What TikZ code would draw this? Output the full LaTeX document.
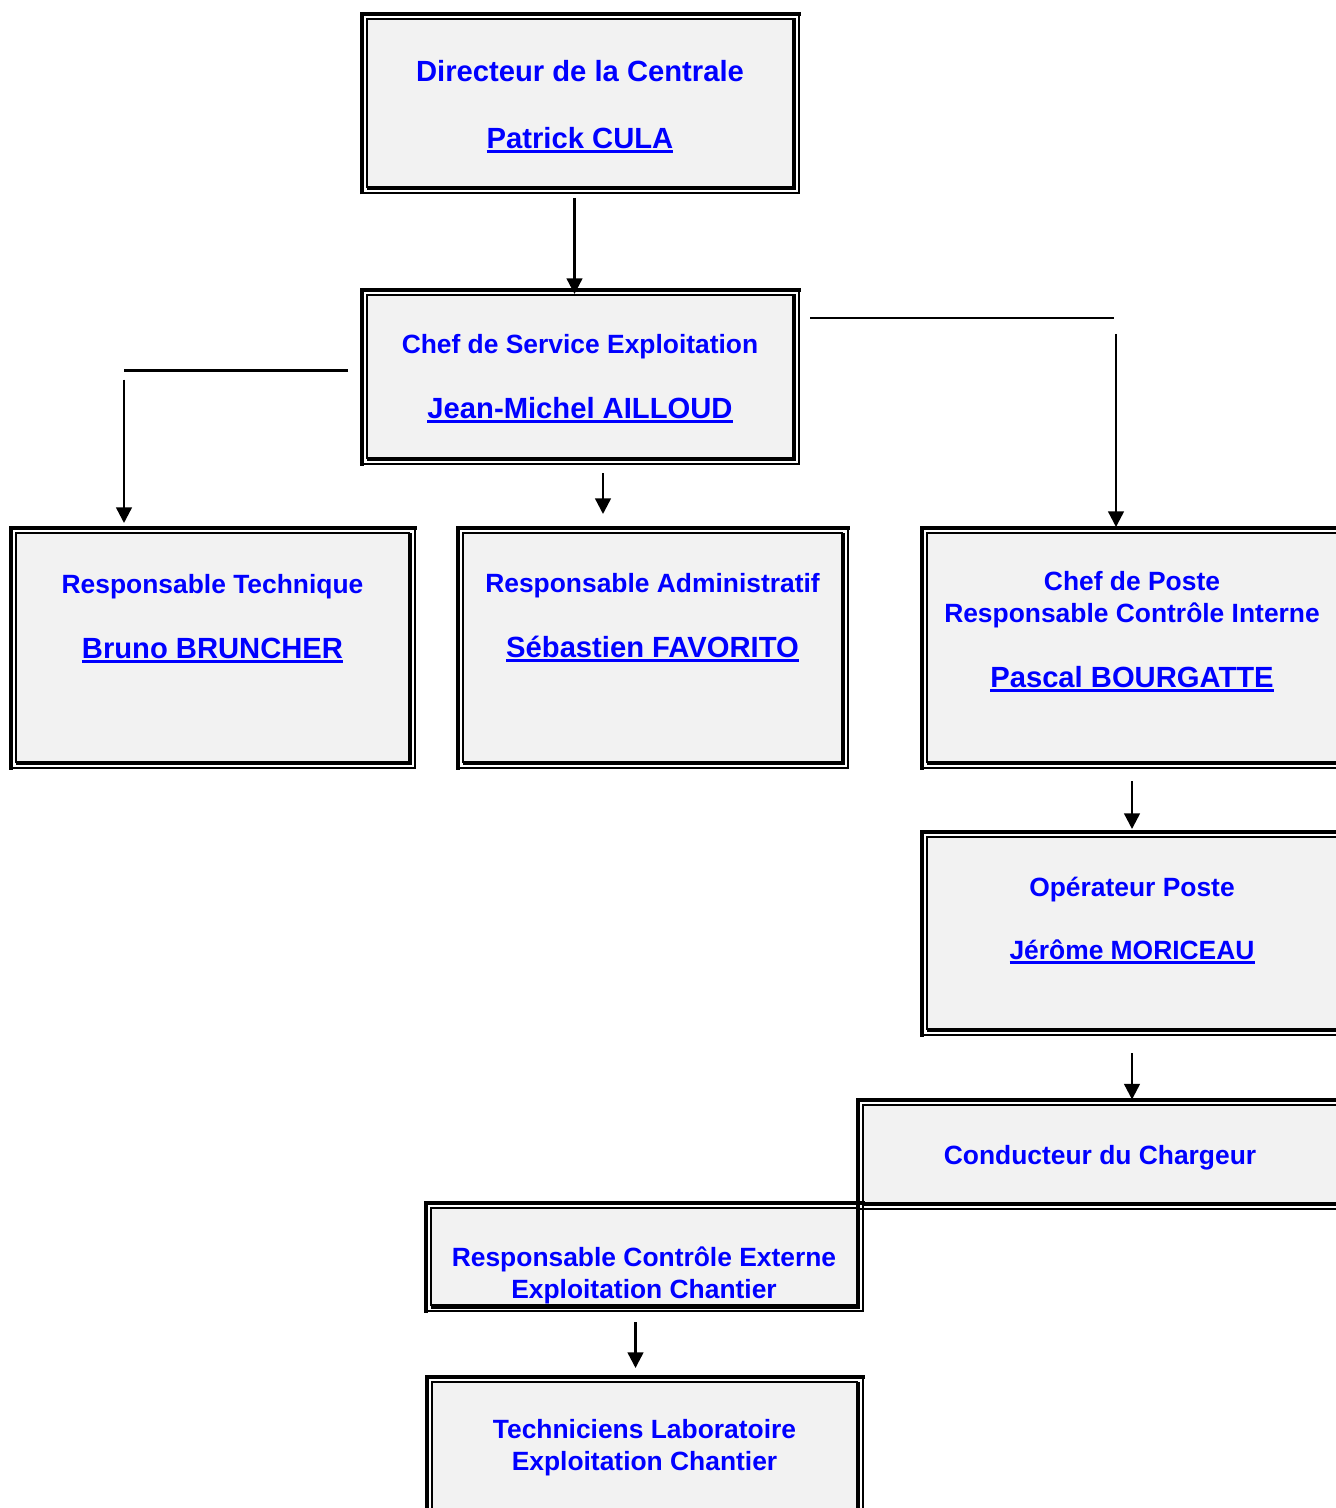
\documentclass[tikz,border=0pt]{standalone}
\usepackage{fontspec}
\setmainfont{Liberation Sans}
\usetikzlibrary{arrows.meta}
\definecolor{boxgray}{HTML}{F2F2F2}
\newsavebox{\namebox}
\newcommand{\nameul}[1]{\sbox{\namebox}{#1}\rlap{\rule[-2.3pt]{\wd\namebox}{1.5pt}}\usebox{\namebox}}
\newcommand{\bigtxt}{\fontsize{14.6}{17}\selectfont\bfseries}
\newcommand{\persname}[1]{{\bigtxt\nameul{#1}}}
\newcommand{\lift}[1]{\rule{0pt}{#1}}
\begin{document}
\begin{tikzpicture}[x=0.5pt, y=-0.5pt]
  \tikzstyle{orgbox}=[fill=boxgray, text=blue, align=center, inner sep=0pt, outer sep=0pt,
                      font=\fontsize{13.2}{16}\selectfont\bfseries]
  \tikzstyle{thinrule}=[line width=0.9pt]
  \tikzstyle{thickrule}=[line width=2.2pt]
  \tikzstyle{link}=[line width=1.2pt]
  \tikzstyle{arrow}=[link, -{Triangle[width=7.8pt, length=7.8pt]}]

  \useasboundingbox (0,0) rectangle (1335,1508);

  \node[orgbox, minimum width=212pt, minimum height=83pt, font=\bigtxt] (dir) at (580,103)
    {\lift{14.6pt}Directeur de la Centrale\\[16.5pt]\nameul{Patrick CULA}};
  \node[orgbox, minimum width=212pt, minimum height=80.5pt] (chef) at (580,376.5)
    {\lift{12.1pt}Chef de Service Exploitation\\[16.5pt]\persname{Jean-Michel AILLOUD}};
  \node[orgbox, minimum width=195.5pt, minimum height=113.5pt] (tech) at (212.5,647.5)
    {\lift{12.1pt}Responsable Technique\\[16.5pt]\persname{Bruno BRUNCHER}\\[18pt]\mbox{}};
  \node[orgbox, minimum width=188.5pt, minimum height=113.5pt] (adm) at (652.5,647.5)
    {\lift{11pt}Responsable Administratif\\[16.5pt]\persname{Sébastien FAVORITO}\\[18pt]\mbox{}};
  \node[orgbox, minimum width=204pt, minimum height=113.5pt] (poste) at (1132,647.5)
    {\lift{12.1pt}Chef de Poste\\Responsable Contrôle Interne\\[16.5pt]\persname{Pascal BOURGATTE}\\[4.3pt]\mbox{}};
  \node[orgbox, minimum width=204pt, minimum height=95pt] (oper) at (1132,933)
    {\lift{12.2pt}Opérateur Poste\\[15.5pt]\nameul{Jérôme MORICEAU}\\[1pt]\mbox{}};
  \node[orgbox, minimum width=236pt, minimum height=48pt] (cond) at (1100,1154)
    {\lift{13.6pt}Conducteur du Chargeur};
  \node[orgbox, minimum width=212pt, minimum height=46.5pt] (rce) at (644,1256.5)
    {\mbox{}\\[13pt]Responsable Contrôle Externe\\Exploitation Chantier};
  \node[orgbox, minimum width=211.5pt, minimum height=64.5pt] (labo) at (644.5,1447.5)
    {Techniciens Laboratoire\\Exploitation Chantier};

  % double frames: thick outside on top/left, thick inside on bottom/right
  \foreach \b in {dir, chef, tech, adm, poste, oper, cond, rce, labo} {%
    \draw[thinrule] ([shift={(-1,2)}]\b.south west) |- ([shift={(2,-1)}]\b.north east);
    \draw[thickrule] ([shift={(-1.5,2.2)}]\b.south west) -| ([shift={(2.2,-1.5)}]\b.north east);
    \draw[thickrule] ([shift={(-6,8.5)}]\b.south west) |- ([shift={(8.5,-6)}]\b.north east);
    \draw[line width=1pt] ([shift={(-8,7)}]\b.south west) -| ([shift={(7,-8)}]\b.north east);
  }

  \coordinate (techturn) at (124,370.5);
  \coordinate (posteturn) at (1116,318);

  \draw[arrow] ([shift={(-5.5,12)}]dir.south) -- ([shift={(-5.5,-2)}]chef.north);
  \draw[link] ([shift={(-20,-6)}]chef.west) -- (techturn);
  \draw[arrow] ([shift={(0,9)}]techturn) -- ([shift={(-88.5,-11)}]tech.north);
  \draw[arrow] ([shift={(23,16)}]chef.south) -- ([shift={(-49.5,-20)}]adm.north);
  \draw[link] ([shift={(18,-58.5)}]chef.east) -- ([shift={(-2,0)}]posteturn);
  \draw[arrow] ([shift={(0,16)}]posteturn) -- ([shift={(-16,-7)}]poste.north);
  \draw[arrow] ([shift={(0,20)}]poste.south) -- ([shift={(0,-9)}]oper.north);
  \draw[arrow] ([shift={(0,25)}]oper.south) -- ([shift={(32,-6.5)}]cond.north);
  \draw[arrow] ([shift={(-8.5,18)}]rce.south) -- ([shift={(-9,-15)}]labo.north);
\end{tikzpicture}
\end{document}
